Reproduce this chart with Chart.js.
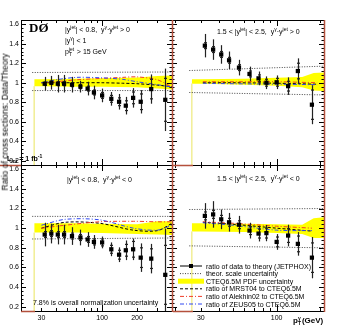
<!DOCTYPE html>
<html>
<head>
<meta charset="utf-8">
<script src="https://cdn.jsdelivr.net/npm/chart.js@4.4.0/dist/chart.umd.min.js"></script>
<style>
  html, body { margin: 0; padding: 0; background: #fff; }
  #wrap { position: relative; width: 346px; height: 331px; overflow: hidden; font-family: "Liberation Sans", Arial, sans-serif; }
  #wrap canvas { position: absolute; left: 0; top: 0; }
  .lbl { position: absolute; white-space: nowrap; font-size: 7px; line-height: 7px; color: #000; }
  .sp { font-size: 5px; position: relative; top: -3px; }
  .sb { font-size: 5px; position: relative; top: 1.5px; }
  .stk { position: relative; display: inline-block; height: 0; }
  .stk .u, .stk .d { position: absolute; left: 0; font-size: 5px; line-height: 5px; }
  .stk .u { top: -7px; }
  .stk .d { top: -2px; }
</style>
</head>
<body>
<div id="wrap">
  <canvas id="cTL" width="346" height="331"></canvas>
  <canvas id="cTR" width="346" height="331"></canvas>
  <canvas id="cBL" width="346" height="331"></canvas>
  <canvas id="cBR" width="346" height="331"></canvas>

  <div class="lbl" style="left:29px;top:21px;font:bold 13px 'Liberation Serif',serif;line-height:13px">DØ</div>
  <div class="lbl" style="left:65px;top:26px">|y<span class="sp">jet</span>| &lt; 0.8,&nbsp; y<span class="sp">γ</span>·y<span class="sp">jet</span> &gt; 0</div>
  <div class="lbl" style="left:65px;top:37px">|y<span class="sp">γ</span>| &lt; 1</div>
  <div class="lbl" style="left:65px;top:48px">p<span class="stk" style="width:6px"><span class="u">jet</span><span class="d">T</span></span> &gt; 15 GeV</div>
  <div class="lbl" style="left:217px;top:28px">1.5 &lt; |y<span class="sp">jet</span>| &lt; 2.5,&nbsp; y<span class="sp">γ</span>·y<span class="sp">jet</span> &gt; 0</div>
  <div class="lbl" style="left:67px;top:176px">|y<span class="sp">jet</span>| &lt; 0.8,&nbsp; y<span class="sp">γ</span>·y<span class="sp">jet</span> &lt; 0</div>
  <div class="lbl" style="left:217px;top:175px">1.5 &lt; |y<span class="sp">jet</span>| &lt; 2.5,&nbsp; y<span class="sp">γ</span>·y<span class="sp">jet</span> &lt; 0</div>
  <div class="lbl" style="left:33px;top:299px">7.8% is overall normalization uncertainty</div>
  <div class="lbl" style="left:7px;top:155px;font-weight:bold">L<span class="sb">int</span> = 1 fb<span class="sp">-1</span></div>
  <div class="lbl" style="left:293px;top:317px;font-size:8px;line-height:8px;font-weight:bold">p<span class="stk" style="width:4px"><span class="u" style="font-weight:bold">γ</span><span class="d" style="font-weight:bold">T</span></span>(GeV)</div>
  <div class="lbl" style="left:5px;top:122px;font-size:8.5px;line-height:8.5px;transform:translate(-50%,-50%) rotate(-90deg)">Ratio of cross sections: Data/Theory</div>
  <div id="legendText"></div>
</div>

<script>
// pT bin centres (GeV)
const ptCentral = [32, 36.5, 41.5, 47, 55, 65, 75, 85, 100, 120, 140, 160, 185, 215, 265, 350];
const ptForward = [32, 36.5, 41.5, 47, 55, 65, 75, 85, 100, 120, 140, 175];

// |yjet|<0.8, same sign
const ratioCenSame = [0.99, 1.0, 0.99, 0.99, 0.98, 0.96, 0.94, 0.90, 0.87, 0.835, 0.805, 0.765, 0.845, 0.805, 0.935, 0.825];
const totCenSame = [0.07, 0.07, 0.09, 0.09, 0.08, 0.06, 0.07, 0.07, 0.07, 0.07, 0.08, 0.09, 0.10, 0.12, 0.15, 0.32];
const statCenSame = [0.015, 0.015, 0.02, 0.02, 0.02, 0.02, 0.025, 0.025, 0.03, 0.035, 0.04, 0.05, 0.06, 0.08, 0.1, 0.22];
// 1.5<|yjet|<2.5, same sign
const ratioFwdSame = [1.38, 1.34, 1.29, 1.23, 1.155, 1.09, 1.045, 1.0, 1.005, 0.965, 1.12, 0.775];
const totFwdSame = [0.12, 0.105, 0.095, 0.09, 0.08, 0.075, 0.07, 0.065, 0.07, 0.09, 0.13, 0.20];
const statFwdSame = [0.03, 0.03, 0.03, 0.03, 0.03, 0.03, 0.035, 0.035, 0.04, 0.05, 0.08, 0.15];
// |yjet|<0.8, opposite sign
const ratioCenOpp = [0.935, 0.945, 0.935, 0.935, 0.92, 0.905, 0.885, 0.86, 0.855, 0.785, 0.73, 0.775, 0.785, 0.70, 0.69, 0.525];
const totCenOpp = [0.12, 0.10, 0.10, 0.10, 0.09, 0.08, 0.075, 0.07, 0.06, 0.07, 0.075, 0.10, 0.11, 0.145, 0.15, 0.47];
const statCenOpp = [0.03, 0.03, 0.03, 0.03, 0.03, 0.03, 0.03, 0.03, 0.035, 0.04, 0.045, 0.06, 0.08, 0.1, 0.1, 0.3];
// 1.5<|yjet|<2.5, opposite sign
const ratioFwdOpp = [1.125, 1.14, 1.09, 1.06, 1.035, 0.975, 0.945, 0.95, 0.86, 0.925, 0.84, 0.70];
const totFwdOpp = [0.13, 0.135, 0.10, 0.095, 0.09, 0.08, 0.08, 0.083, 0.08, 0.11, 0.12, 0.21];
const statFwdOpp = [0.04, 0.04, 0.04, 0.04, 0.04, 0.04, 0.045, 0.05, 0.05, 0.07, 0.08, 0.15];

// theory scale uncertainty (dotted)
const scaleXCen = [25, 400];
const scaleXFwd = [25, 212];
const scaleUpCenSame = [1.105, 1.11], scaleDnCenSame = [0.92, 0.92];
const scaleUpFwdSame = [1.125, 1.17], scaleDnFwdSame = [0.90, 0.875];
const scaleUpCenOpp = [1.12, 1.12], scaleDnCenOpp = [0.89, 0.90];
const scaleUpFwdOpp = [1.19, 1.20], scaleDnFwdOpp = [0.82, 0.80];

// CTEQ6.5M PDF uncertainty band
const bandXCen = [26, 30, 60, 100, 200, 300, 400];
const bandXFwd = [26, 30, 60, 100, 150, 180, 212];
const bandUpCenSame = [1.035, 1.035, 1.04, 1.045, 1.055, 1.07, 1.075];
const bandLoCenSame = [0.965, 0.965, 0.96, 0.96, 0.955, 0.94, 0.93];
const bandUpFwdSame = [1.035, 1.035, 1.04, 1.05, 1.06, 1.1, 1.105];
const bandLoFwdSame = [0.99, 0.99, 0.98, 0.97, 0.955, 0.92, 0.915];
const bandUpCenOpp = [1.05, 1.05, 1.05, 1.045, 1.04, 1.07, 1.07];
const bandLoCenOpp = [0.955, 0.955, 0.955, 0.95, 0.94, 0.935, 0.93];
const bandUpFwdOpp = [1.05, 1.05, 1.045, 1.04, 1.035, 1.1, 1.11];
const bandLoFwdOpp = [0.965, 0.965, 0.96, 0.95, 0.94, 0.9, 0.9];

// other PDF sets relative to CTEQ6.5M
const pdfXCenSame = [30, 40, 60, 100, 150, 200, 300, 400];
const mrstCenSame = [1.0, 1.0, 1.0, 1.0, 0.995, 0.99, 0.975, 0.96];
const alekCenSame = [1.0, 1.01, 1.03, 1.045, 1.055, 1.06, 1.03, 0.955];
const zeusCenSame = [1.0, 1.03, 1.055, 1.05, 1.035, 1.01, 0.98, 0.955];
const pdfXFwdSame = [31, 50, 100, 190];
const mrstFwdSame = [1.0, 1.0, 0.995, 0.985];
const alekFwdSame = [1.01, 1.01, 1.01, 1.0];
const zeusFwdSame = [0.995, 0.99, 0.985, 0.98];
const pdfXCenOpp = [30, 48, 95, 186, 300, 400];
const mrstCenOpp = [1.0, 1.06, 1.05, 0.98, 0.975, 1.05];
const alekCenOpp = [1.0, 1.03, 1.065, 1.07, 1.065, 1.065];
const zeusCenOpp = [1.03, 1.09, 1.085, 1.0, 0.98, 1.03];
const pdfXFwdOpp = [31, 50, 100, 175];
const mrstFwdOpp = [1.06, 1.04, 1.0, 0.97];
const alekFwdOpp = [1.065, 1.05, 1.02, 1.0];
const zeusFwdOpp = [1.055, 1.03, 0.98, 0.975];

const legendLabels = [
  'ratio of data to theory (JETPHOX)',
  'theor. scale uncertainty',
  'CTEQ6.5M PDF uncertainty',
  'ratio of MRST04 to CTEQ6.5M',
  'ratio of Alekhin02 to CTEQ6.5M',
  'ratio of ZEUS05 to CTEQ6.5M'
];

const FONT = '"Liberation Sans", Arial, sans-serif';
const RED = '#f03c28', BLUE = '#3048f0', YELLOW = '#ffff00';
const Y_MIN = 0.157, Y_MAX = 1.643;

function pts(xs, ys) {
  return xs.map((x, i) => ({ x: x, y: ys[i] }));
}

// draws total (line) and statistical (small ticks) error bars under the markers
const errorBars = {
  id: 'errorBars',
  beforeDatasetDraw(chart, args) {
    const ds = chart.data.datasets[args.index];
    if (!ds.totErr) return;
    const ctx = chart.ctx, xs = chart.scales.x, ys = chart.scales.y, a = chart.chartArea;
    ctx.save();
    ctx.beginPath();
    ctx.rect(a.left, a.top, a.right - a.left, a.bottom - a.top);
    ctx.clip();
    ctx.strokeStyle = '#222';
    ctx.lineWidth = 1.2;
    ds.data.forEach((p, i) => {
      const px = Math.round(xs.getPixelForValue(p.x)) + 0.5;
      ctx.beginPath();
      ctx.moveTo(px, ys.getPixelForValue(p.y + ds.totErr[i]));
      ctx.lineTo(px, ys.getPixelForValue(p.y - ds.totErr[i]));
      ctx.stroke();
      [p.y + ds.statErr[i], p.y - ds.statErr[i]].forEach(v => {
        const py = ys.getPixelForValue(v);
        ctx.beginPath();
        ctx.moveTo(px - 1.5, py);
        ctx.lineTo(px + 1.5, py);
        ctx.stroke();
      });
    });
    ctx.restore();
  }
};

// frame with inward ticks on all four sides
const frameTicks = {
  id: 'frameTicks',
  afterDraw(chart) {
    const ctx = chart.ctx, a = chart.chartArea, xs = chart.scales.x, ys = chart.scales.y;
    ctx.save();
    ctx.strokeStyle = '#000';
    ctx.lineWidth = 1;
    ctx.strokeRect(a.left + 0.5, a.top + 0.5, a.right - a.left, a.bottom - a.top);
    ctx.beginPath();
    for (let k = 4; k <= 41; k++) {
      const v = k * 0.04;
      if (v < Y_MIN || v > Y_MAX) continue;
      const len = k % 5 === 0 ? 5 : 2.5;
      const py = Math.round(ys.getPixelForValue(v)) + 0.5;
      ctx.moveTo(a.left, py); ctx.lineTo(a.left + len, py);
      ctx.moveTo(a.right, py); ctx.lineTo(a.right - len, py);
    }
    const decade = [20, 30, 40, 50, 60, 70, 80, 90, 100, 200, 300, 400];
    decade.forEach(v => {
      if (v <= xs.min || v >= xs.max) return;
      const len = v === 100 ? 6 : 3;
      const px = Math.round(xs.getPixelForValue(v)) + 0.5;
      ctx.moveTo(px, a.top); ctx.lineTo(px, a.top + len);
      ctx.moveTo(px, a.bottom); ctx.lineTo(px, a.bottom - len);
    });
    ctx.stroke();
    ctx.restore();
  }
};

// reddish pad border pieces seen in the original figure
const padEdges = {
  id: 'padEdges',
  afterDraw(chart, args, opts) {
    if (!opts.show) return;
    const ctx = chart.ctx;
    ctx.save();
    ctx.strokeStyle = '#b4503c';
    ctx.lineWidth = 1.5;
    ctx.beginPath();
    ctx.moveTo(172.5, 20); ctx.lineTo(172.5, 312);
    ctx.moveTo(324.5, 20); ctx.lineTo(324.5, 312);
    ctx.moveTo(0, 165.5); ctx.lineTo(21, 165.5);
    ctx.moveTo(173, 165.5); ctx.lineTo(193, 165.5);
    ctx.moveTo(21, 311.5); ctx.lineTo(35, 311.5);
    ctx.moveTo(173, 311.5); ctx.lineTo(193, 311.5);
    ctx.stroke();
    ctx.restore();
  }
};

// legend samples (text is placed as HTML)
const legendSamples = {
  id: 'legendSamples',
  afterDraw(chart, args, opts) {
    if (!opts.show) return;
    const ctx = chart.ctx, a = chart.chartArea;
    const x0 = a.left + 8, x1 = a.left + 30, step = 7.6, y0 = a.bottom - 45;
    ctx.save();
    legendLabels.forEach((t, i) => {
      const y = y0 + i * step;
      ctx.setLineDash([]);
      ctx.lineWidth = 1;
      if (i === 0) {
        ctx.strokeStyle = '#000';
        ctx.beginPath(); ctx.moveTo(x0, y); ctx.lineTo(x1, y); ctx.stroke();
        ctx.fillStyle = '#000';
        ctx.fillRect((x0 + x1) / 2 - 2, y - 2, 4, 4);
      } else if (i === 1) {
        ctx.strokeStyle = '#444'; ctx.setLineDash([1, 1.5]);
        ctx.beginPath(); ctx.moveTo(x0, y); ctx.lineTo(x1, y); ctx.stroke();
      } else if (i === 2) {
        ctx.fillStyle = YELLOW;
        ctx.fillRect(x0 - 2, y - 2.5, x1 - x0 + 4, 5);
      } else {
        ctx.strokeStyle = i === 3 ? '#000' : (i === 4 ? RED : BLUE);
        ctx.setLineDash(i === 3 ? [3, 2] : [4, 2, 1, 2]);
        ctx.beginPath(); ctx.moveTo(x0, y); ctx.lineTo(x1, y); ctx.stroke();
      }
    });
    ctx.restore();
    const holder = document.getElementById('legendText');
    if (!holder.childElementCount) {
      legendLabels.forEach((t, i) => {
        const d = document.createElement('div');
        d.className = 'lbl';
        d.style.left = (x1 + 4) + 'px';
        d.style.top = (y0 + i * step - 3.5) + 'px';
        d.textContent = t;
        holder.appendChild(d);
      });
    }
  }
};

function buildPanel(id, p) {
  const datasets = [
    { type: 'line', data: pts(p.bandX, p.bandLo), borderWidth: 0, pointRadius: 0, fill: false, order: 10 },
    { type: 'line', data: pts(p.bandX, p.bandUp), borderWidth: 0, pointRadius: 0, fill: '-1', backgroundColor: YELLOW, order: 9 },
    { type: 'line', data: [{ x: p.bandX[0], y: p.bandLo[0] }, { x: p.bandX[0], y: 0 }], borderColor: '#f2ef9a', borderWidth: 1, pointRadius: 0, fill: false, order: 8 },
    { type: 'line', data: pts(p.scaleX, p.scaleUp), borderColor: '#444', borderWidth: 1, borderDash: [1, 1.5], pointRadius: 0, fill: false, order: 5 },
    { type: 'line', data: pts(p.scaleX, p.scaleDn), borderColor: '#444', borderWidth: 1, borderDash: [1, 1.5], pointRadius: 0, fill: false, order: 5 },
    { type: 'line', data: pts(p.pdfX, p.mrst), borderColor: '#000', borderWidth: 1, borderDash: [3, 2], pointRadius: 0, fill: false, tension: 0.3, order: 4 },
    { type: 'line', data: pts(p.pdfX, p.alek), borderColor: RED, borderWidth: 1, borderDash: [4, 2, 1, 2], pointRadius: 0, fill: false, tension: 0.3, order: 3 },
    { type: 'line', data: pts(p.pdfX, p.zeus), borderColor: BLUE, borderWidth: 1, borderDash: [4, 2, 1, 2], pointRadius: 0, fill: false, tension: 0.3, order: 2 },
    { type: 'scatter', data: pts(p.pt, p.ratio), totErr: p.tot, statErr: p.stat, pointStyle: 'rect', pointRadius: 3, backgroundColor: '#000', borderColor: '#000', borderWidth: 0, order: 0 }
  ];
  return new Chart(document.getElementById(id), {
    type: 'scatter',
    data: { datasets: datasets },
    options: {
      responsive: false,
      animation: false,
      devicePixelRatio: 1,
      events: [],
      layout: { padding: p.pad },
      plugins: {
        legend: { display: false },
        tooltip: { enabled: false },
        padEdges: { show: !!p.edges },
        legendSamples: { show: !!p.legend }
      },
      scales: {
        x: {
          type: 'logarithmic', min: p.xMin, max: p.xMax, display: p.showX,
          grid: { display: false, drawTicks: false }, border: { display: false },
          afterBuildTicks: s => { s.ticks = p.xLabels.map(v => ({ value: v })); },
          afterFit: s => { s.height = p.showX ? 12 : 0; },
          ticks: { autoSkip: false, maxRotation: 0, padding: 3, color: '#000', font: { family: FONT, size: 7 }, callback: v => String(v) }
        },
        y: {
          min: Y_MIN, max: Y_MAX, display: p.showY,
          grid: { display: false, drawTicks: false }, border: { display: false },
          afterBuildTicks: s => { s.ticks = [0.2, 0.4, 0.6, 0.8, 1, 1.2, 1.4, 1.6].map(v => ({ value: v })); },
          afterFit: s => { s.width = p.showY ? 21 : 0; },
          ticks: { autoSkip: false, padding: 2, color: '#000', font: { family: FONT, size: 7 }, callback: v => String(Math.round(v * 10) / 10) }
        }
      }
    },
    plugins: [errorBars, frameTicks, padEdges, legendSamples]
  });
}

buildPanel('cTL', {
  pad: { left: 0, top: 20, right: 174, bottom: 166 }, showX: false, showY: true,
  xMin: 20, xMax: 400, xLabels: [30, 100, 200],
  pt: ptCentral, ratio: ratioCenSame, tot: totCenSame, stat: statCenSame,
  scaleX: scaleXCen, scaleUp: scaleUpCenSame, scaleDn: scaleDnCenSame,
  bandX: bandXCen, bandUp: bandUpCenSame, bandLo: bandLoCenSame,
  pdfX: pdfXCenSame, mrst: mrstCenSame, alek: alekCenSame, zeus: zeusCenSame
});
buildPanel('cTR', {
  pad: { left: 172, top: 20, right: 22, bottom: 166 }, showX: false, showY: false,
  xMin: 19, xMax: 212, xLabels: [30, 100],
  pt: ptForward, ratio: ratioFwdSame, tot: totFwdSame, stat: statFwdSame,
  scaleX: scaleXFwd, scaleUp: scaleUpFwdSame, scaleDn: scaleDnFwdSame,
  bandX: bandXFwd, bandUp: bandUpFwdSame, bandLo: bandLoFwdSame,
  pdfX: pdfXFwdSame, mrst: mrstFwdSame, alek: alekFwdSame, zeus: zeusFwdSame
});
buildPanel('cBL', {
  pad: { left: 0, top: 165, right: 174, bottom: 8 }, showX: true, showY: true,
  xMin: 20, xMax: 400, xLabels: [30, 100, 200],
  pt: ptCentral, ratio: ratioCenOpp, tot: totCenOpp, stat: statCenOpp,
  scaleX: scaleXCen, scaleUp: scaleUpCenOpp, scaleDn: scaleDnCenOpp,
  bandX: bandXCen, bandUp: bandUpCenOpp, bandLo: bandLoCenOpp,
  pdfX: pdfXCenOpp, mrst: mrstCenOpp, alek: alekCenOpp, zeus: zeusCenOpp
});
buildPanel('cBR', {
  pad: { left: 172, top: 165, right: 22, bottom: 8 }, showX: true, showY: false,
  xMin: 19, xMax: 212, xLabels: [30, 100],
  pt: ptForward, ratio: ratioFwdOpp, tot: totFwdOpp, stat: statFwdOpp,
  scaleX: scaleXFwd, scaleUp: scaleUpFwdOpp, scaleDn: scaleDnFwdOpp,
  bandX: bandXFwd, bandUp: bandUpFwdOpp, bandLo: bandLoFwdOpp,
  pdfX: pdfXFwdOpp, mrst: mrstFwdOpp, alek: alekFwdOpp, zeus: zeusFwdOpp,
  legend: true, edges: true
});
</script>
</body>
</html>
